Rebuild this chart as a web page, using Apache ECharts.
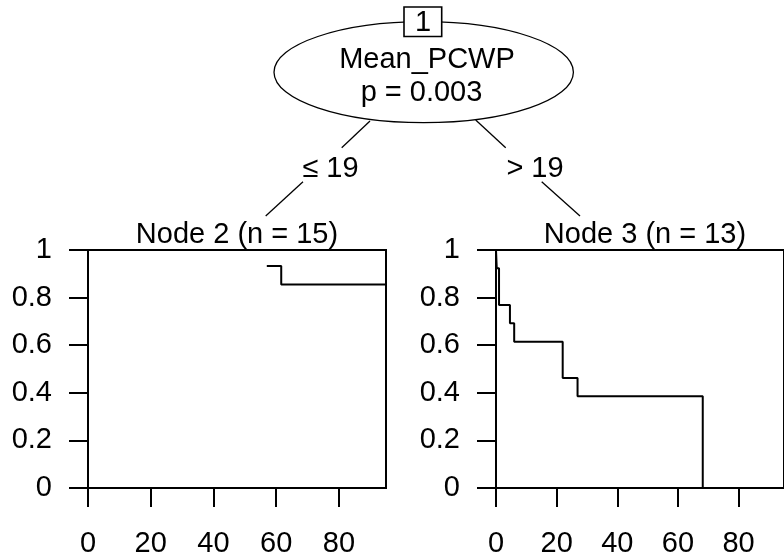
<!DOCTYPE html>
<html>
<head>
<meta charset="utf-8">
<script src="https://cdn.jsdelivr.net/npm/echarts@6/dist/echarts.min.js"></script>
<style>
html,body{margin:0;padding:0;background:#fff;}
#chart{width:784px;height:558px;}
</style>
</head>
<body>
<div id="chart"></div>
<script>
// ---- data ----
const xTicks = [0, 20, 40, 60, 80];
const xMax = 95;
const yTicks = [0, 0.2, 0.4, 0.6, 0.8, 1];
const node2Title = 'Node 2 (n = 15)';
const node3Title = 'Node 3 (n = 13)';
const node2Time = [57, 61.6, 95];
const node2Surv = [0.933, 0.855, 0.855];
const node3Time = [0, 0.25, 1.0, 4.6, 6.0, 22.0, 26.9, 68.2];
const node3Surv = [1, 0.923, 0.769, 0.692, 0.615, 0.462, 0.385, 0];
const splitVar = 'Mean_PCWP';
const splitP = 'p = 0.003';
const nodeId = '1';
const leftLabel = '\u2264 19';
const rightLabel = '> 19';

const FONT = '"Liberation Sans", Arial, sans-serif';
const FS = 29;
const chart = echarts.init(document.getElementById('chart'), null, {renderer: 'canvas'});

function pairs(t, s) { return t.map((v, i) => [v, s[i]]); }

function xAxisFor(gi) {
  return {
    gridIndex: gi, type: 'value', min: 0, max: xMax,
    axisLine: {show: true, lineStyle: {color: '#000', width: 2}},
    splitLine: {show: false},
    axisTick: {show: true, inside: false, length: 19, customValues: xTicks, lineStyle: {color: '#000', width: 2}},
    axisLabel: {show: true, customValues: xTicks, margin: 41, color: '#000', fontSize: FS, fontFamily: FONT}
  };
}
function yAxisFor(gi) {
  return {
    gridIndex: gi, type: 'value', min: 0, max: 1, interval: 0.2,
    axisLine: {show: true, lineStyle: {color: '#000', width: 2}},
    splitLine: {show: false},
    axisTick: {show: true, inside: false, length: 19, customValues: yTicks, lineStyle: {color: '#000', width: 2}},
    axisLabel: {show: true, customValues: yTicks, margin: 36, color: '#000', fontSize: FS, fontFamily: FONT}
  };
}

const lineW = 1.3;
const option = {
  backgroundColor: '#fff',
  animation: false,
  grid: [
    {left: 88, top: 250, width: 298, height: 239, show: true, borderColor: '#000', borderWidth: 2, backgroundColor: 'transparent'},
    {left: 496, top: 250, width: 298, height: 239, show: true, borderColor: '#000', borderWidth: 2, backgroundColor: 'transparent'}
  ],
  xAxis: [xAxisFor(0), xAxisFor(1)],
  yAxis: [yAxisFor(0), yAxisFor(1)],
  series: [
    {type: 'line', xAxisIndex: 0, yAxisIndex: 0, step: 'end', data: pairs(node2Time, node2Surv),
     showSymbol: false, symbol: 'none', lineStyle: {color: '#000', width: 2}},
    {type: 'line', xAxisIndex: 1, yAxisIndex: 1, step: 'end', data: pairs(node3Time, node3Surv),
     showSymbol: false, symbol: 'none', lineStyle: {color: '#000', width: 2}}
  ],
  graphic: {elements: [
    {type: 'ellipse', shape: {cx: 423.7, cy: 72.2, rx: 149.7, ry: 50.5}, style: {fill: '#fff', stroke: '#000', lineWidth: lineW}},
    {type: 'rect', shape: {x: 404, y: 7, width: 37.7, height: 29.5}, style: {fill: '#fff', stroke: '#000', lineWidth: 1.6}},
    {type: 'text', x: 423, y: 22.5, style: {text: nodeId, fill: '#000', fontSize: FS, fontFamily: FONT, align: 'center', verticalAlign: 'middle'}},
    {type: 'text', x: 427, y: 60, style: {text: splitVar, fill: '#000', fontSize: FS, fontFamily: FONT, align: 'center', verticalAlign: 'middle'}},
    {type: 'text', x: 421.5, y: 93, style: {text: splitP, fill: '#000', fontSize: FS, fontFamily: FONT, align: 'center', verticalAlign: 'middle'}},
    {type: 'line', shape: {x1: 370, y1: 121, x2: 341.7, y2: 147.7}, style: {stroke: '#000', lineWidth: lineW}},
    {type: 'line', shape: {x1: 303, y1: 181.7, x2: 265.7, y2: 216}, style: {stroke: '#000', lineWidth: lineW}},
    {type: 'line', shape: {x1: 475.7, y1: 120, x2: 505.7, y2: 147.7}, style: {stroke: '#000', lineWidth: lineW}},
    {type: 'line', shape: {x1: 541.7, y1: 181.7, x2: 580, y2: 216}, style: {stroke: '#000', lineWidth: lineW}},
    {type: 'text', x: 330.5, y: 168.5, style: {text: leftLabel, fill: '#000', fontSize: FS, fontFamily: FONT, align: 'center', verticalAlign: 'middle'}},
    {type: 'text', x: 535, y: 168.5, style: {text: rightLabel, fill: '#000', fontSize: FS, fontFamily: FONT, align: 'center', verticalAlign: 'middle'}},
    {type: 'text', x: 237, y: 235, style: {text: node2Title, fill: '#000', fontSize: FS, fontFamily: FONT, align: 'center', verticalAlign: 'middle'}},
    {type: 'text', x: 645, y: 235, style: {text: node3Title, fill: '#000', fontSize: FS, fontFamily: FONT, align: 'center', verticalAlign: 'middle'}}
  ]}
};
chart.setOption(option);
</script>
</body>
</html>
